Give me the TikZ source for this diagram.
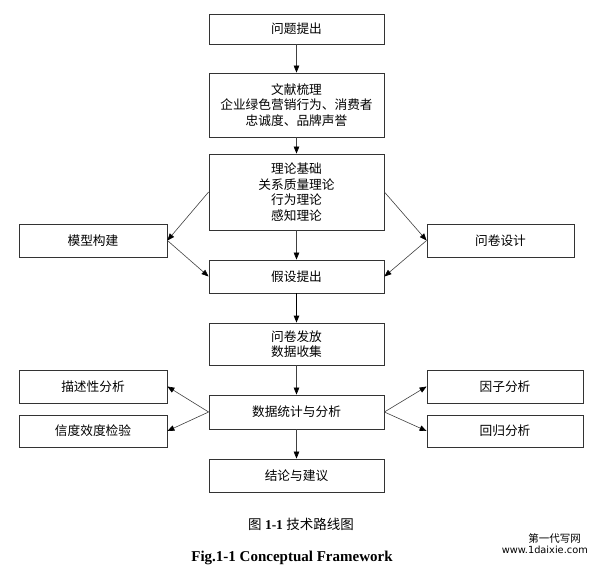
\documentclass[tikz,border=0pt]{standalone}
\usepackage{fontspec}
\setmainfont{Liberation Serif}
\newfontfamily\cjk{Noto Sans CJK SC}
\newfontfamily\wmfont{DejaVu Sans}
\usetikzlibrary{arrows.meta}
\begin{document}
\begin{tikzpicture}[x=1pt,y=-1pt,
  box/.style={draw=black!80,line width=0.8pt,inner sep=0pt,align=center,
    font=\cjk\fontsize{12.7}{15.5}\selectfont},
  mid/.style={box,minimum width=175pt},
  side/.style={box,minimum width=148pt,minimum height=33pt},
  conn/.style={draw=black!75,line width=0.6pt,-{Triangle[length=7pt,width=5.5pt,color=black]}},
  thick conn/.style={conn,draw=black,line width=1pt}]
\useasboundingbox (0,0) rectangle (598,569);
\node[mid,minimum height=30pt] (q1) at (296.5,29) {问题提出};
\node[mid,minimum height=64pt] (lit) at (296.5,105) {文献梳理\\企业绿色营销行为、消费者\\忠诚度、品牌声誉};
\node[mid,minimum height=76pt] (theo) at (296.5,192) {理论基础\\关系质量理论\\行为理论\\感知理论};
\node[side] (model) at (93,240.5) {模型构建};
\node[side,minimum width=147pt] (quest) at (500.5,240.5) {问卷设计};
\node[mid,minimum height=33pt] (hyp) at (296.5,276.5) {假设提出};
\node[mid,minimum height=42pt] (dist) at (296.5,344) {问卷发放\\数据收集};
\node[mid,minimum height=34pt] (stat) at (296.5,412) {数据统计与分析};
\node[side] (desc) at (93,386.5) {描述性分析};
\node[side,minimum height=32pt] (rel) at (93,431) {信度效度检验};
\node[side,minimum width=156pt] (factor) at (505,386.5) {因子分析};
\node[side,minimum width=156pt,minimum height=32pt] (reg) at (505,431) {回归分析};
\node[mid,minimum height=33pt] (concl) at (296.5,475.5) {结论与建议};
\draw[conn] (q1) -- (lit);
\draw[conn] (lit) -- (theo);
\draw[conn] (theo.west) -- (model.east);
\draw[conn] (theo.east) -- (quest.west);
\draw[conn] (theo) -- (hyp);
\draw[conn] (model.east) -- (hyp.west);
\draw[conn] (quest.west) -- (hyp.east);
\draw[thick conn] (hyp) -- (dist);
\draw[conn] (dist) -- (stat);
\draw[conn] (stat.west) -- (desc.east);
\draw[conn] (stat.west) -- (rel.east);
\draw[conn] (stat.east) -- (factor.west);
\draw[conn] (stat.east) -- (reg.west);
\draw[conn] (stat) -- (concl);
\node[font=\fontsize{13.5}{16}\selectfont] (cap1) at (301,524) {{\cjk 图} \textbf{1-1} {\cjk 技术路线图}};
\node[font=\bfseries\fontsize{15}{18}\selectfont] (cap2) at (292,558) {Fig.1-1 Conceptual Framework};
\node[anchor=east,inner sep=0pt,font=\cjk\fontsize{10.5}{12}\selectfont] (wm1) at (581,538) {第一代写网};
\node[anchor=east,inner sep=0pt,font=\wmfont\fontsize{9.8}{12}\selectfont] (wm2) at (588,550) {www.1daixie.com};
\end{tikzpicture}
\end{document}
